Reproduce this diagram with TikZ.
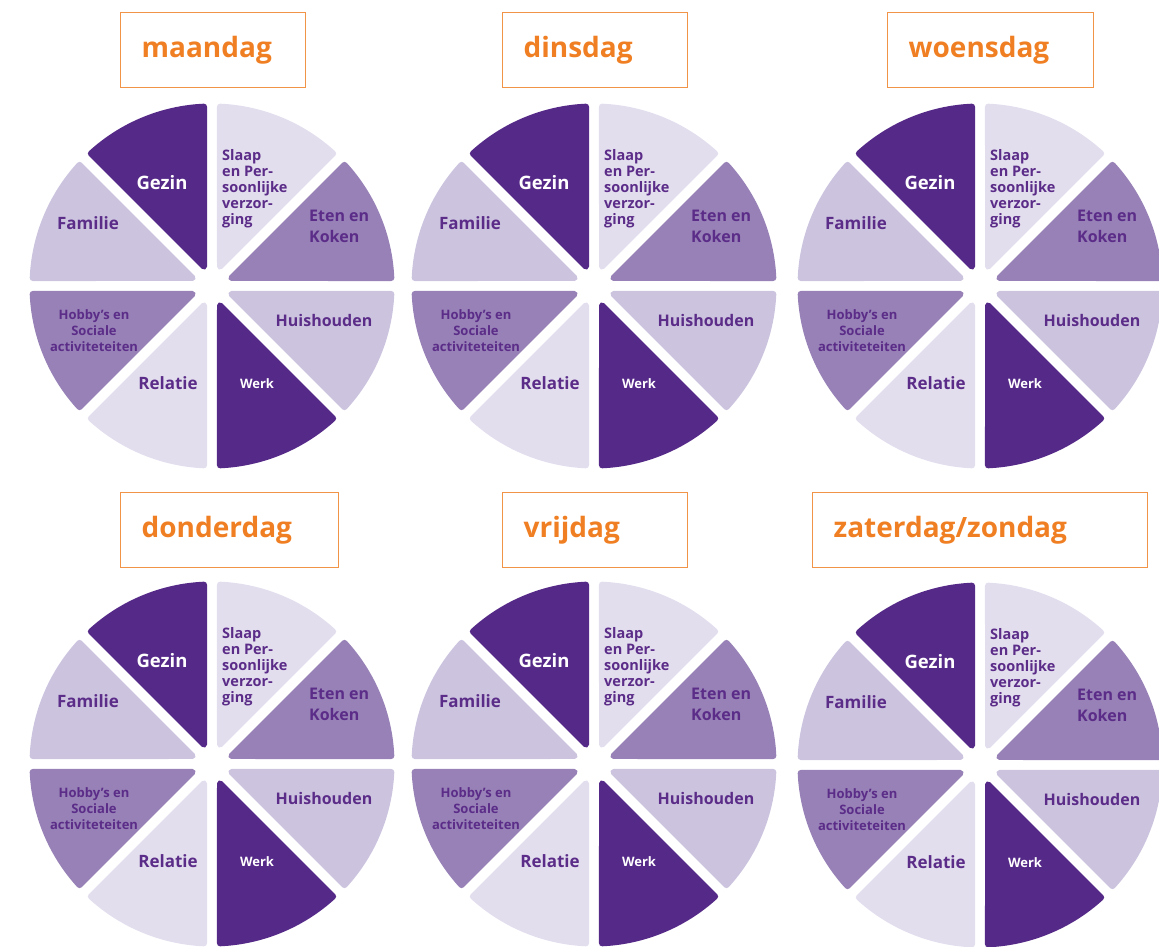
\documentclass[tikz,border=0pt]{standalone}
\usepackage{fontspec}
\setmainfont{Open Sans}

\definecolor{donker}{HTML}{552988}
\definecolor{midden}{HTML}{9781B6}
\definecolor{licht}{HTML}{CCC4DF}
\definecolor{zacht}{HTML}{E2DEEE}
\definecolor{tekstpaars}{HTML}{5B2C88}
\definecolor{oranje}{HTML}{EF7F22}
\definecolor{kader}{HTML}{F29447}

% one slice of 45 degrees; the thick round stroke gives the rounded corners
\newcommand{\taartstuk}[2]{%
  \filldraw[stuk, fill=#2, draw=#2] (#1+22.5:20.9) -- (#1+2.55:179.5)
    arc[start angle=#1+2.55, end angle=#1+42.45, radius=179.5pt] -- cycle;}

\tikzset{
  stuk/.style={line width=6pt, line join=round},
  groot/.style={text=tekstpaars, inner sep=0pt, font=\bfseries\fontsize{17}{17}\selectfont},
  middel/.style={text=tekstpaars, inner sep=0pt, align=left, font=\bfseries\fontsize{16}{21}\selectfont},
  klein/.style={text=tekstpaars, inner sep=0pt, align=left, font=\bfseries\fontsize{14.5}{16}\selectfont},
  mini/.style={text=tekstpaars, inner sep=0pt, align=center, font=\bfseries\fontsize{13}{16}\selectfont},
  dag/.style={draw=kader, line width=1.3pt, anchor=north west, minimum height=75pt,
    inner xsep=21pt, align=left, text=oranje, text height=20pt, text depth=6pt,
    font=\bfseries\fontsize{28}{28}\selectfont},
  pics/dagschijf/.style={code={
    % slices, counter-clockwise from the right
    \taartstuk{0}{midden}
    \taartstuk{45}{zacht}
    \taartstuk{90}{donker}
    \taartstuk{135}{licht}
    \taartstuk{180}{midden}
    \taartstuk{-135}{zacht}
    \taartstuk{-90}{donker}
    \taartstuk{-45}{licht}
    % texts
    \node[groot, text=white, font=\bfseries\fontsize{18.5}{18.5}\selectfont] (-gezin) at (-50,103) {Gezin};
    \node[groot] (-familie) at (-124,63) {Familie};
    \node[klein, anchor=west] (-slaap) at (10,97) {Slaap\\en Per-\\soonlijke\\verzor-\\ging};
    \node[middel, anchor=west] (-eten) at (97,60) {Eten en\\Koken};
    \node[groot, font=\bfseries\fontsize{16}{16}\selectfont] (-huishouden) at (112,-35) {Huishouden};
    \node[mini, text=white] (-werk) at (45,-98) {Werk};
    \node[groot] (-relatie) at (-44,-97) {Relatie};
    \node[mini] (-hobby) at (-118,-45) {Hobby’s en\\Sociale\\activiteteiten};
  }}
}

\begin{document}
\begin{tikzpicture}[x=1pt, y=1pt]
  \useasboundingbox (0,0) rectangle (1159,947);
  \clip (0,0) rectangle (1159,947);

  % top row
  \node[dag, text width=143pt] (ma) at (120,935) {maandag};
  \node[dag, text width=143pt] (di) at (502,935) {dinsdag};
  \node[dag, text width=164pt] (wo) at (887,935) {woensdag};
  \pic (schijfma) at (212,661) {dagschijf};
  \pic (schijfdi) at (594,661) {dagschijf};
  \pic (schijfwo) at (980,661) {dagschijf};

  % bottom row
  \node[dag, text width=176pt] (do) at (120,455) {donderdag};
  \node[dag, text width=143pt] (vr) at (502,455) {vrijdag};
  \node[dag, text width=293pt] (za) at (812,455) {zaterdag/zondag};
  \pic (schijfdo) at (212,183) {dagschijf};
  \pic (schijfvr) at (594,183) {dagschijf};
  \pic (schijfza) at (980,182) {dagschijf};
\end{tikzpicture}
\end{document}
